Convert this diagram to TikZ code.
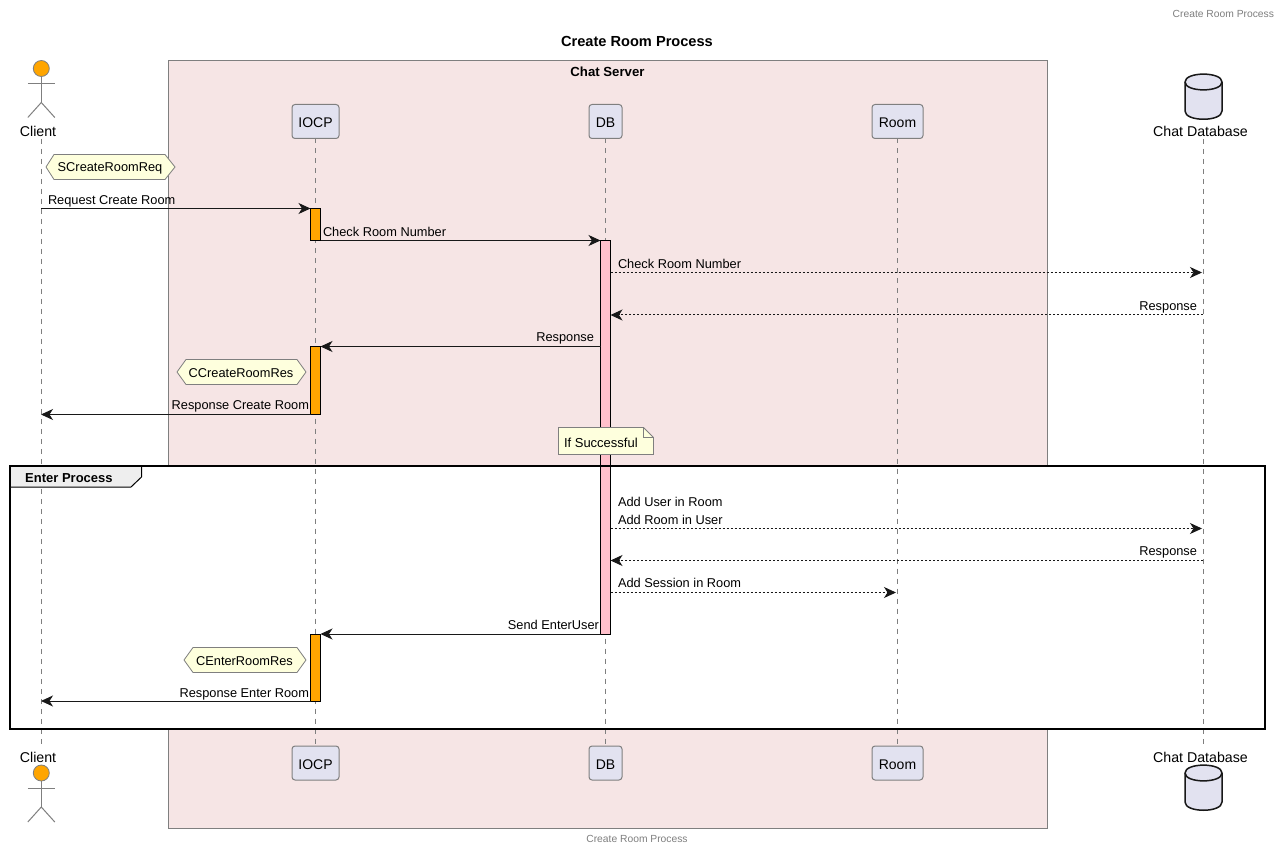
\documentclass[tikz,border=0pt]{standalone}
\usepackage{fontspec}
\setmainfont{Liberation Sans}
\usetikzlibrary{arrows.meta,shapes.geometric}
\definecolor{linegray}{HTML}{7F7F7F}
\definecolor{ink}{HTML}{181818}
\definecolor{partfill}{HTML}{E2E2F0}
\definecolor{notefill}{HTML}{FEFFDD}
\definecolor{boxfill}{HTML}{F6E5E5}
\definecolor{tabfill}{HTML}{EEEEEE}
\definecolor{barorange}{HTML}{FFA500}
\definecolor{barpink}{HTML}{FFC0CB}
\newcommand{\fs}[1]{\fontsize{#1}{#1}\selectfont}
\tikzset{
  txt/.style={inner sep=0pt,outer sep=0pt,text=black,font=\fs{12.8},yshift=-0.6pt},
  lbl/.style={txt,anchor=base west},
  lblr/.style={txt,anchor=base east},
  part/.style={draw=linegray,line width=1pt,fill=partfill,rounded corners=3pt,minimum height=34pt,inner sep=0pt,outer sep=0pt,text=black,font=\fs{14},text height=12pt,text depth=0pt},
  lifeline/.style={draw=linegray,line width=.8pt,dash pattern=on 5pt off 5pt},
  stick/.style={draw=linegray,line width=1pt},
  msg/.style={draw=ink,line width=1pt,-{Stealth[length=12pt,width=11pt,inset=3.5pt]}},
  msgd/.style={msg,dash pattern=on 2pt off 2pt},
  hexa/.style={draw=linegray,fill=notefill,line width=.8pt,line join=miter},
  bar/.style={draw=black,line width=1pt,minimum width=10pt,inner sep=0pt,outer sep=0pt},
  hexlbl/.style={inner sep=0pt,outer sep=0pt,text=black,font=\fs{12.8}},
  small/.style={inner sep=0pt,outer sep=0pt,text=linegray,font=\fs{10.3}},
  head/.style={inner sep=0pt,outer sep=0pt,text=black,font=\fs{14.2}},
}
\begin{document}
\begin{tikzpicture}[x=1pt,y=-1pt]
\useasboundingbox (0,0) rectangle (1280,850);
\fill[white] (0,0) rectangle (1280,850);
\node[small,anchor=base east] (hdr) at (1274,18) {Create Room Process};
\node[small,anchor=base] (ftr) at (637,842) {Create Room Process};
\node[inner sep=0pt,font=\bfseries\fs{14.6}] (title) at (637,41.5) {Create Room Process};
% box
\draw[draw=linegray,fill=boxfill,line width=1pt] (168.5,60.5) rectangle (1047,828);
\node[inner sep=0pt,font=\bfseries\fs{13.2}] (boxt) at (607.5,72) {Chat Server};
% group background
\fill[white] (10,466) rectangle (1265,729);
% participants
\node[part,minimum width=47pt] (iocpT) at (315.5,121.5) {IOCP};
\node[part,minimum width=33pt] (dbT) at (605.5,121.5) {DB};
\node[part,minimum width=51pt] (roomT) at (897.5,121.5) {Room};
\node[part,minimum width=47pt] (iocpB) at (315.5,763) {IOCP};
\node[part,minimum width=33pt] (dbB) at (605.5,763) {DB};
\node[part,minimum width=51pt] (roomB) at (897.5,763) {Room};
\node[head] (clT) at (38,131) {Client};
\node[head] (clB) at (38,757) {Client};
\node[head] (cdT) at (1200.5,131) {Chat Database};
\node[head] (cdB) at (1200.5,757) {Chat Database};
% lifelines
\coordinate (cl1) at (41,139); \coordinate (cl2) at (41,746);
\coordinate (cd1) at (1203.5,139); \coordinate (cd2) at (1203.5,746);
\draw[lifeline] (cl1) -- (cl2);
\draw[lifeline] (cd1) -- (cd2);
\draw[lifeline] (iocpT.south) -- (iocpB.north);
\draw[lifeline] (dbT.south) -- (dbB.north);
\draw[lifeline] (roomT.south) -- (roomB.north);
% actors
\foreach \n/\y in {a/68.5,b/773}{
  \node[circle,draw=linegray,fill=barorange,line width=.8pt,minimum size=16pt,inner sep=0pt,outer sep=0pt] (act\n) at (41.3,\y) {};
  \draw[stick] (act\n.south) -- ++(0,26) coordinate (cr\n);
  \draw[stick] ([shift={(-13.5,7.5)}]act\n.south) -- ++(27,0);
  \draw[stick] ([shift={(-13.5,15)}]cr\n) -- (cr\n) -- ([shift={(13.5,15)}]cr\n);
}
% cylinders
\foreach \y in {74,765}{
  \draw[draw=ink,fill=partfill,line width=1.5pt]
    (1185,\y+8) .. controls (1185,\y-2.5) and (1222,\y-2.5) .. (1222,\y+8)
    -- (1222,\y+37) .. controls (1222,\y+48) and (1185,\y+48) .. (1185,\y+37) -- cycle;
  \draw[draw=ink,line width=1.5pt]
    (1185,\y+8) .. controls (1185,\y+18.5) and (1222,\y+18.5) .. (1222,\y+8);
}
% activation bars
\node[bar,fill=barpink,minimum height=394pt] (dbbar) at (605.5,437.5) {};
\node[bar,fill=barorange,minimum height=32pt] (ib1) at (315.5,224.5) {};
\node[bar,fill=barorange,minimum height=68pt] (ib2) at (315.5,380.5) {};
\node[bar,fill=barorange,minimum height=67pt] (ib3) at (315.5,667.5) {};
% group frame
\draw[black,line width=2pt] (10,466) rectangle (1265,729);
\draw[black,line width=1pt,fill=tabfill] (10,466) -- (141.5,466) -- (141.5,477) -- (131,487) -- (10,487) -- cycle;
\draw[black,line width=2pt] (10,466) -- (141.5,466);
\draw[black,line width=2pt] (10,466) -- (10,487);
\node[inner sep=0pt,anchor=base west,font=\bfseries\fs{13}] (grp) at (25,482.5) {Enter Process};
% hexagon notes
\draw[hexa] (46,167) -- (54,154.5) -- (165,154.5) -- (175,167) -- (165,179.5) -- (54,179.5) -- cycle;
\node[hexlbl] (h1) at (110,168.5) {SCreateRoomReq};
\draw[hexa] (177,372) -- (186,359.5) -- (297,359.5) -- (306,372) -- (297,384.5) -- (186,384.5) -- cycle;
\node[hexlbl] (h2) at (241,373.5) {CCreateRoomRes};
\draw[hexa] (184,660) -- (193,647.5) -- (297,647.5) -- (306,660) -- (297,672.5) -- (193,672.5) -- cycle;
\node[hexlbl] (h3) at (244.5,661.5) {CEnterRoomRes};
% note
\draw[hexa] (558.5,427.5) -- (643.5,427.5) -- (653.5,437.5) -- (653.5,454.5) -- (558.5,454.5) -- cycle;
\draw[hexa,fill=none] (643.5,427.5) -- (643.5,437.5) -- (653.5,437.5);
\node[hexlbl,anchor=base west,font=\fs{13}] (n1) at (564,447) {If Successful};
% message anchors
\coordinate (m3a) at (dbbar.east |- 0,272.5); \coordinate (m3b) at (1202,272.5);
\coordinate (m4a) at (1203,315);  \coordinate (m4b) at (dbbar.east |- 0,315);
\coordinate (m7a) at (dbbar.east |- 0,528.5); \coordinate (m7b) at (1202,528.5);
\coordinate (m8a) at (1203,560.5);  \coordinate (m8b) at (dbbar.east |- 0,560.5);
\coordinate (m9a) at (dbbar.east |- 0,592.5); \coordinate (m9b) at (896,592.5);
% messages
\draw[msg] (cl1 |- ib1.north) -- (ib1.north west);
\draw[msg] (ib1.south east) -- (dbbar.west |- ib1.south);
\draw[msgd] (m3a) -- (m3b);
\draw[msgd] (m4a) -- (m4b);
\draw[msg] (dbbar.west |- ib2.north) -- (ib2.north east);
\draw[msg] (ib2.south west) -- (cl1 |- ib2.south);
\draw[msgd] (m7a) -- (m7b);
\draw[msgd] (m8a) -- (m8b);
\draw[msgd] (m9a) -- (m9b);
\draw[msg] (dbbar.west |- ib3.north) -- (ib3.north east);
\draw[msg] (ib3.south west) -- (cl1 |- ib3.south);
% message labels
\node[lbl] (l1) at (48,204) {Request Create Room};
\node[lbl] (l2) at (323,235.5) {Check Room Number};
\node[lbl] (l3) at (618,268) {Check Room Number};
\node[lblr] (l4) at (1197,310) {Response};
\node[lblr] (l5) at (594,341) {Response};
\node[lblr] (l6) at (309,409) {Response Create Room};
\node[lbl] (l7a) at (618,506) {Add User in Room};
\node[lbl] (l7b) at (618,524) {Add Room in User};
\node[lblr] (l8) at (1197,555) {Response};
\node[lbl] (l9) at (618,587) {Add Session in Room};
\node[lblr] (l10) at (599,629) {Send EnterUser};
\node[lblr] (l11) at (309,697) {Response Enter Room};
\end{tikzpicture}
\end{document}
